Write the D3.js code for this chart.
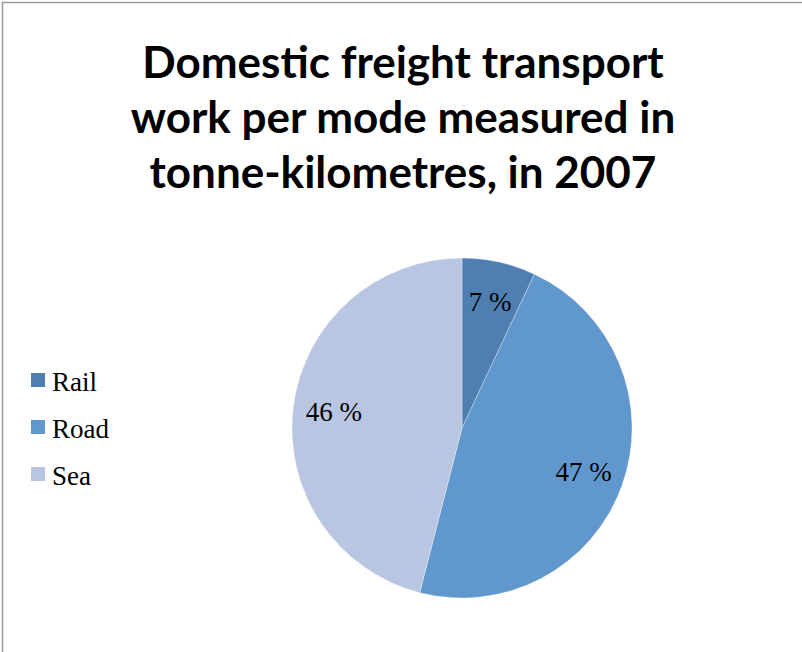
<!DOCTYPE html>
<html>
<head>
<meta charset="utf-8">
<script src="https://cdn.jsdelivr.net/npm/d3@7"></script>
<style>
  html, body { margin: 0; padding: 0; background: #fff; }
  svg { display: block; }
</style>
</head>
<body>
<svg id="chart" width="802" height="652"></svg>
<script>
// Domestic freight transport work per mode (share of tonne-kilometres, 2007)
const modes = ["Rail", "Road", "Sea"];
const shares = [7, 47, 46];
const colours = ["#4f7fb1", "#6097cc", "#b8c6e1"];
const titleLines = [
  "Domestic freight transport",
  "work per mode measured in",
  "tonne-kilometres, in 2007"
];

const svg = d3.select("#chart");
const W = 802, H = 652;

// outer chart frame
svg.append("rect")
  .attr("x", 2.5).attr("y", 2.5)
  .attr("width", W + 10).attr("height", H + 10)
  .attr("fill", "#fff")
  .attr("stroke", "#9a9a9a").attr("stroke-width", 1.5);

// title
const title = svg.append("text")
  .attr("text-anchor", "middle")
  .attr("font-family", "Lato, 'Open Sans', sans-serif")
  .attr("font-weight", "bold")
  .attr("font-size", 44)
  .attr("fill", "#000");
titleLines.forEach((t, i) => {
  title.append("tspan").attr("x", 403).attr("y", 78 + i * 55).text(t);
});

// pie
const cx = 462, cy = 428, R = 170;
const colour = d3.scaleOrdinal().domain(modes).range(colours);
const pie = d3.pie().sort(null).value(d => d.value);
const arcs = pie(modes.map((m, i) => ({ mode: m, value: shares[i] })));
const arc = d3.arc().innerRadius(0).outerRadius(R);
const labelArc = d3.arc().innerRadius(R * 0.76).outerRadius(R * 0.76);

const g = svg.append("g").attr("transform", `translate(${cx},${cy})`);
g.selectAll("path.slice")
  .data(arcs)
  .join("path")
  .attr("class", "slice")
  .attr("d", arc)
  .attr("fill", d => colour(d.data.mode))
  .attr("stroke", "#ffffff")
  .attr("stroke-opacity", 0.5)
  .attr("stroke-width", 0.6);

g.selectAll("text.pct")
  .data(arcs)
  .join("text")
  .attr("class", "pct")
  .attr("transform", d => `translate(${labelArc.centroid(d)})`)
  .attr("text-anchor", "middle")
  .attr("dy", "0.35em")
  .attr("font-family", "'Liberation Serif', 'Times New Roman', serif")
  .attr("font-size", 27)
  .attr("fill", "#000")
  .text(d => `${d.data.value} %`);

// legend
const legend = svg.append("g").attr("transform", "translate(31,373)");
const item = legend.selectAll("g.item")
  .data(modes)
  .join("g")
  .attr("class", "item")
  .attr("transform", (d, i) => `translate(0,${i * 47})`);
item.append("rect")
  .attr("width", 14).attr("height", 14)
  .attr("fill", d => colour(d));
item.append("text")
  .attr("x", 21).attr("y", 18)
  .attr("font-family", "'Liberation Serif', 'Times New Roman', serif")
  .attr("font-size", 27)
  .attr("fill", "#000")
  .text(d => d);
</script>
</body>
</html>
